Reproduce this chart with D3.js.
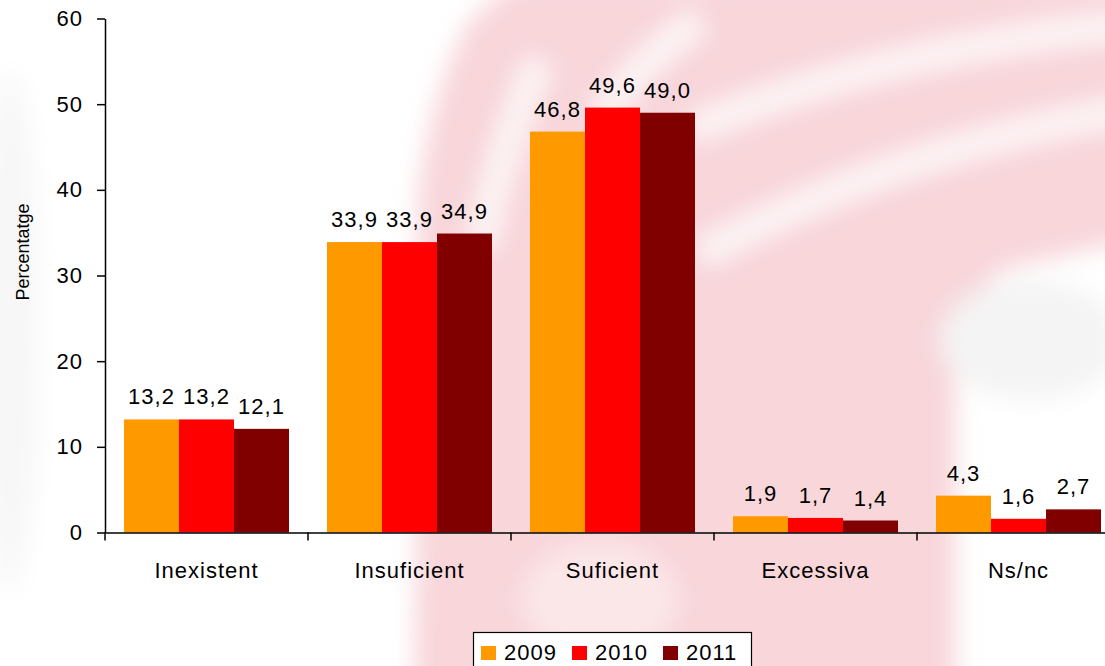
<!DOCTYPE html>
<html>
<head>
<meta charset="utf-8">
<script src="https://cdn.jsdelivr.net/npm/d3@7"></script>
<style>
  html, body { margin: 0; padding: 0; background: #ffffff; }
  svg { display: block; font-family: "Liberation Sans", Arial, sans-serif; }
</style>
</head>
<body>
<svg id="chart" width="1105" height="666"></svg>
<script>
const categories = ["Inexistent", "Insuficient", "Suficient", "Excessiva", "Ns/nc"];
const seriesNames = ["2009", "2010", "2011"];
const values2009 = [13.2, 33.9, 46.8, 1.9, 4.3];
const values2010 = [13.2, 33.9, 49.6, 1.7, 1.6];
const values2011 = [12.1, 34.9, 49.0, 1.4, 2.7];
const yTicks = [0, 10, 20, 30, 40, 50, 60];
const colors = ["#FF9900", "#FF0000", "#800000"];

const series = [values2009, values2010, values2011];
const svg = d3.select("#chart");

// faint watermark background
const defs = svg.append("defs");
defs.append("filter").attr("id", "blur").attr("x", "-50%").attr("y", "-50%").attr("width", "200%").attr("height", "200%")
  .append("feGaussianBlur").attr("stdDeviation", 12);
const wm = svg.append("g").attr("filter", "url(#blur)");
wm.append("path").attr("fill", "#f8d6da")
  .attr("d", "M415,700 L418,200 Q430,90 470,20 L520,-20 L1130,-20 L1130,240 L1000,270 L955,320 L955,700 Z");
const whiteStreaks = [
  "M690,130 Q880,50 1130,25",
  "M700,255 Q890,150 1130,110",
  "M480,250 Q500,150 540,60",
  "M600,120 Q640,60 700,20"
];
wm.selectAll("path.w").data(whiteStreaks).join("path").attr("class", "w")
  .attr("d", d => d).attr("fill", "none").attr("stroke", "#fdf5f6").attr("stroke-width", 30);
wm.append("ellipse").attr("cx", 600).attr("cy", 600).attr("rx", 80).attr("ry", 60).attr("fill", "#fbe6e8");
wm.append("ellipse").attr("cx", 1030).attr("cy", 340).attr("rx", 90).attr("ry", 60).attr("fill", "#f4f4f4");
wm.append("ellipse").attr("cx", 10).attr("cy", 330).attr("rx", 30).attr("ry", 260).attr("fill", "#f7f7f7");

const x0 = 105, yBase = 532.5, yTop = 18.5;
const x = d3.scaleBand().domain(categories).range([x0, x0 + 203 * 5]).paddingInner(0).paddingOuter(0);
const inner = d3.scaleBand().domain(seriesNames).range([19, 203 - 19]).padding(0);
const y = d3.scaleLinear().domain([0, 60]).range([yBase, yTop]);

// bars
const groups = svg.append("g").selectAll("g").data(categories).join("g")
  .attr("transform", d => `translate(${x(d)},0)`);
groups.selectAll("rect").data((c, i) => seriesNames.map((s, k) => ({ s, v: series[k][i], k })))
  .join("rect")
  .attr("x", d => inner(d.s))
  .attr("y", d => y(d.v))
  .attr("width", inner.bandwidth())
  .attr("height", d => y(0) - y(d.v))
  .attr("fill", d => colors[d.k]);

// value labels
groups.selectAll("text").data((c, i) => seriesNames.map((s, k) => ({ s, v: series[k][i], k })))
  .join("text")
  .attr("x", d => inner(d.s) + inner.bandwidth() / 2)
  .attr("y", d => y(d.v) - 15)
  .attr("text-anchor", "middle")
  .attr("font-size", 22)
  .attr("letter-spacing", 1)
  .attr("fill", "#000")
  .text(d => d.v.toFixed(1).replace(".", ","));

// y axis
const yAxis = svg.append("g").attr("transform", `translate(${x0},0)`)
  .call(d3.axisLeft(y).tickValues(yTicks).tickSize(8).tickSizeOuter(0).tickPadding(14).tickFormat(d3.format("d")));
yAxis.select(".domain").attr("stroke", "#000").attr("stroke-width", 1.5);
yAxis.selectAll(".tick line").attr("stroke", "#000").attr("stroke-width", 1.5);
yAxis.selectAll(".tick text").attr("font-size", 22).attr("letter-spacing", 1).attr("fill", "#000")
  .attr("font-family", "Liberation Sans, Arial, sans-serif");

// x axis
const xAxis = svg.append("g").attr("transform", `translate(0,${yBase})`)
  .call(d3.axisBottom(x).tickSize(0).tickPadding(30));
xAxis.select(".domain").attr("stroke", "#000").attr("stroke-width", 1.5);
xAxis.selectAll(".tick text").attr("font-size", 22).attr("letter-spacing", 1).attr("fill", "#000")
  .attr("font-family", "Liberation Sans, Arial, sans-serif");
svg.append("g").selectAll("line").data(categories).join("line")
  .attr("x1", d => x(d)).attr("x2", d => x(d))
  .attr("y1", yBase).attr("y2", yBase + 8)
  .attr("stroke", "#000").attr("stroke-width", 1.5);

// y axis title
svg.append("text")
  .attr("transform", "translate(29,252) rotate(-90)")
  .attr("text-anchor", "middle")
  .attr("font-size", 18)
  .attr("fill", "#000")
  .text("Percentatge");

// legend
const lg = svg.append("g");
lg.append("rect").attr("x", 473.5).attr("y", 632.5).attr("width", 278).attr("height", 50)
  .attr("fill", "#fff").attr("stroke", "#000").attr("stroke-width", 1.2);
const legX = [481, 572, 663];
const items = lg.selectAll("g").data(seriesNames).join("g")
  .attr("transform", (d, i) => `translate(${legX[i]},0)`);
items.append("rect").attr("x", 0).attr("y", 646).attr("width", 15).attr("height", 14)
  .attr("fill", (d, i) => colors[i]);
items.append("text").attr("x", 23).attr("y", 660).attr("font-size", 22).attr("letter-spacing", 1)
  .attr("fill", "#000").text(d => d);
</script>
</body>
</html>
